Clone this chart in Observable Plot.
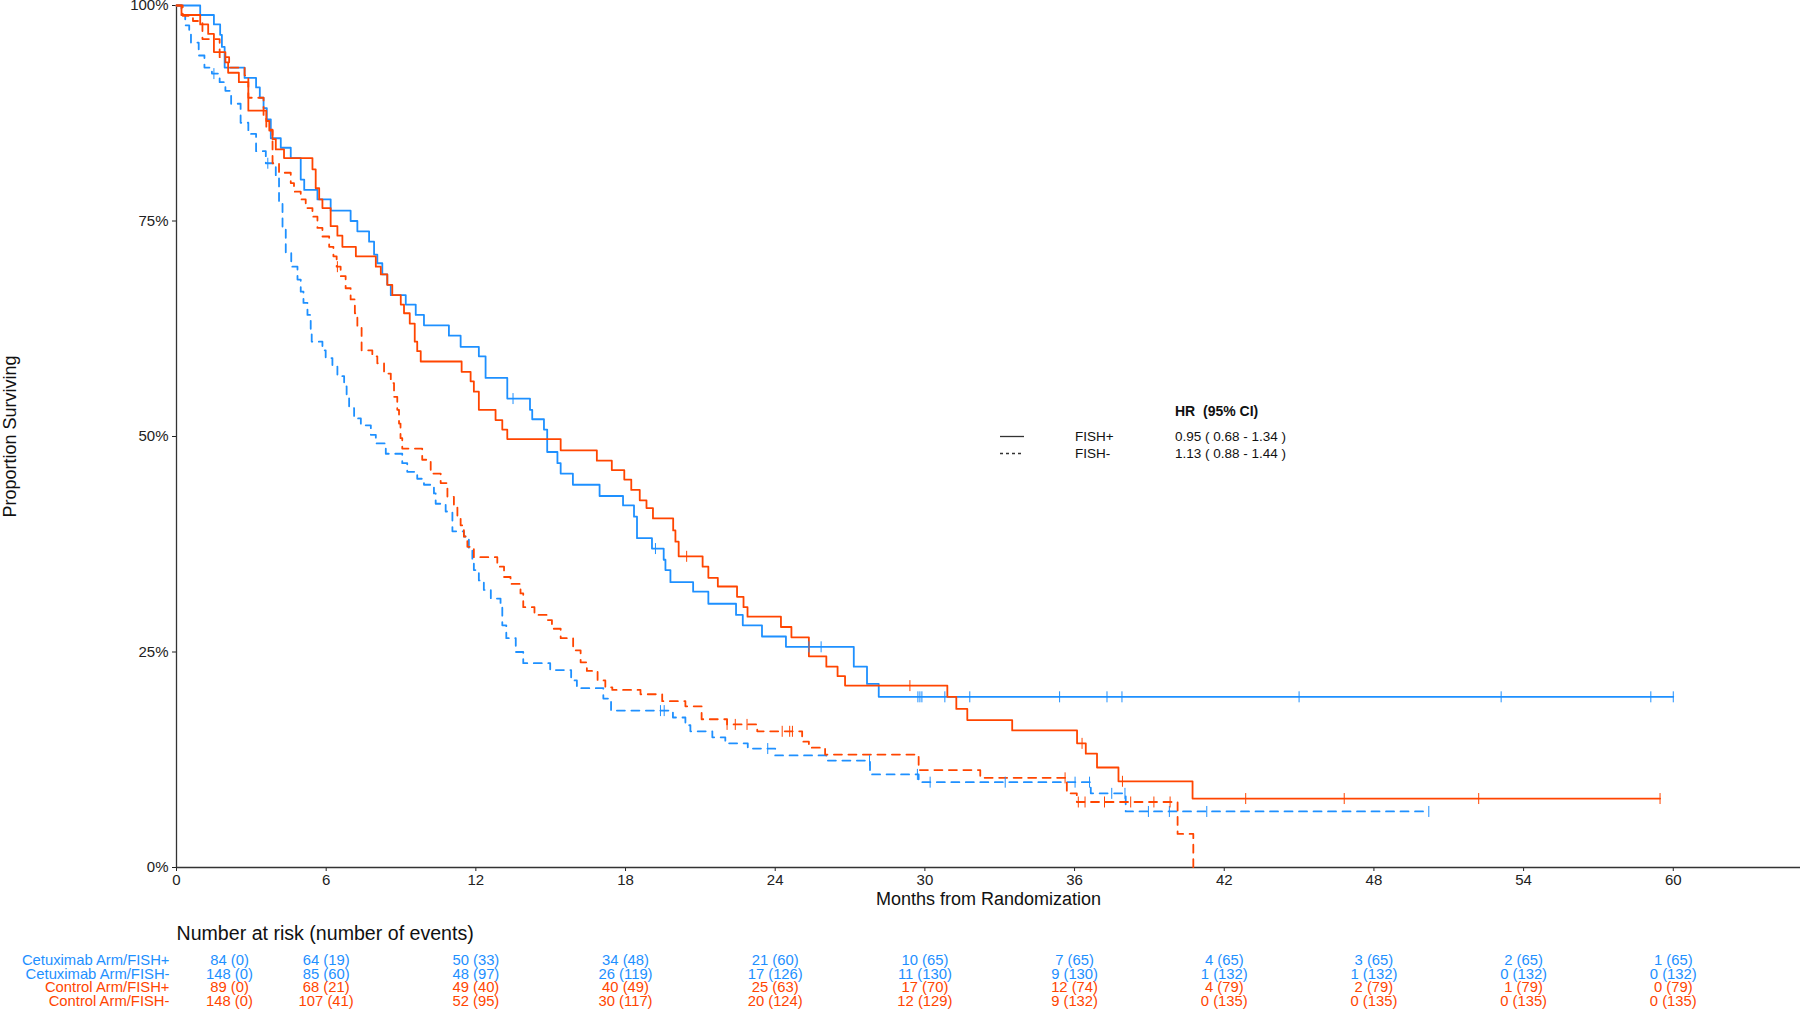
<!DOCTYPE html>
<html>
<head>
<meta charset="utf-8">
<script src="https://cdn.jsdelivr.net/npm/d3@7"></script>
<script src="https://cdn.jsdelivr.net/npm/@observablehq/plot@0.6"></script>
<style>
  body { margin: 0; background: #fff; }
  #wrap { position: relative; width: 1800px; height: 1009px; overflow: hidden; background: #fff; }
  #wrap svg { display: block; }
</style>
</head>
<body>
<div id="wrap"></div>
<script>
// ---------- data ----------
const BLUE = "#1E90FF";
const RED = "#FF4500";
const FONT = "'Liberation Sans', Arial, sans-serif";

const riskMonths = [0, 6, 12, 18, 24, 30, 36, 42, 48, 54, 60];
const yTicks = [0, 0.25, 0.5, 0.75, 1];
const groupNames = ["Cetuximab Arm/FISH+", "Cetuximab Arm/FISH-", "Control Arm/FISH+", "Control Arm/FISH-"];

// Kaplan-Meier steps: [month, % surviving after the step]
const cetuxPos = [[0,100],[0.95,98.9],[1.5,97.8],[1.75,96.6],[1.82,95.2],[1.93,92.8],[2.73,91.6],[3.19,90.5],[3.34,89.3],[3.49,88.1],[3.62,86.8],[3.78,84.6],[4.18,83.5],[4.58,82.3],[4.98,79.8],[5.12,78.6],[5.65,77.5],[6.18,76.2],[6.98,75.0],[7.25,73.8],[7.72,72.6],[7.92,71.1],[8.05,70.1],[8.25,68.8],[8.45,67.6],[8.59,66.4],[9.19,65.3],[9.59,64.1],[9.92,62.9],[10.92,61.7],[11.39,60.4],[12.12,59.3],[12.39,56.8],[13.26,54.4],[14.17,53.1],[14.26,52.0],[14.73,50.8],[14.86,48.2],[15.27,46.9],[15.4,45.7],[15.89,44.4],[16.96,43.1],[17.9,42.0],[18.34,40.7],[18.46,38.2],[19.06,37.0],[19.53,35.7],[19.6,34.5],[19.8,33.1],[20.71,32.0],[21.32,30.6],[22.43,29.3],[22.7,28.1],[23.47,26.8],[24.43,25.6],[27.15,23.3],[27.68,21.3],[28.15,19.8],[60,19.8]];
const cetuxNeg = [[0,100],[0.2,98.9],[0.35,97.7],[0.51,96.7],[0.58,95.7],[0.89,94.2],[1.12,92.8],[1.42,92.1],[1.73,91.1],[1.96,90.1],[2.19,88.6],[2.57,86.4],[2.88,85.1],[3.19,83.1],[3.58,81.7],[3.98,80.0],[4.11,77.1],[4.25,74.0],[4.38,71.3],[4.6,69.7],[4.85,68.2],[4.98,66.8],[5.09,65.5],[5.25,64.1],[5.38,62.0],[5.42,61.0],[5.85,60.0],[5.98,59.1],[6.25,58.1],[6.45,57.0],[6.72,55.8],[6.82,54.6],[6.92,53.3],[7.12,52.1],[7.39,51.3],[7.79,50.2],[7.99,49.2],[8.39,48.0],[9.05,46.9],[9.25,45.9],[9.65,45.1],[9.92,44.4],[10.32,43.4],[10.39,42.2],[10.79,41.3],[11.06,39.0],[11.52,38.4],[11.72,36.8],[11.86,35.7],[11.92,34.5],[12.12,33.3],[12.32,32.2],[12.6,31.2],[12.99,30.4],[13.06,28.1],[13.22,26.6],[13.6,25.0],[13.9,23.7],[14.98,22.9],[15.82,21.7],[16.05,20.8],[17.11,19.6],[17.42,18.2],[19.9,17.4],[20.4,16.5],[20.6,15.8],[21.48,15.1],[22.0,14.4],[22.9,13.8],[24.0,13.0],[26.05,12.4],[27.8,10.8],[29.75,9.9],[36.65,8.6],[38.05,6.5],[50.2,6.5]];
const controlPos = [[0,100],[0.2,98.9],[0.95,97.8],[1.27,96.7],[1.5,94.6],[1.96,93.4],[2.07,92.2],[2.5,91.1],[2.88,87.8],[3.6,86.6],[3.72,85.5],[3.85,84.5],[3.98,83.3],[4.31,82.3],[5.45,81.0],[5.58,78.8],[5.72,77.5],[5.85,76.5],[6.18,74.4],[6.45,73.3],[6.65,72.0],[7.19,70.9],[7.99,69.7],[8.19,68.8],[8.45,67.6],[8.65,66.4],[8.99,65.3],[9.12,64.3],[9.35,63.1],[9.55,61.0],[9.65,59.9],[9.79,58.7],[11.43,57.5],[11.79,56.4],[11.92,55.2],[12.12,53.1],[12.79,51.9],[13.06,50.8],[13.26,49.7],[15.4,48.4],[16.85,47.2],[17.45,46.1],[17.95,45.0],[18.23,43.8],[18.57,42.6],[18.84,41.7],[19.1,40.5],[19.91,39.1],[20.0,37.8],[20.13,36.1],[21.09,34.9],[21.32,33.6],[21.7,32.6],[22.47,31.4],[22.73,30.2],[22.89,29.1],[24.23,27.9],[24.65,26.7],[25.35,24.5],[26.05,23.3],[26.5,22.2],[26.8,21.1],[30.9,19.8],[31.26,18.4],[31.7,17.1],[33.5,15.9],[36.1,14.4],[36.45,13.2],[36.9,11.6],[37.76,10.0],[40.73,8.0],[59.47,8.0]];
const controlNeg = [[0,100],[0.25,98.8],[0.66,98.2],[1.04,96.1],[1.73,94.0],[2.11,92.8],[2.73,91.9],[2.88,89.3],[3.49,87.2],[3.6,85.6],[3.85,81.7],[4.11,80.6],[4.58,79.4],[4.71,78.4],[4.98,77.5],[5.18,76.5],[5.45,75.5],[5.65,74.2],[5.85,73.2],[6.12,72.0],[6.29,70.9],[6.42,69.7],[6.58,68.6],[6.78,67.2],[6.98,65.9],[7.15,64.3],[7.25,62.8],[7.42,60.0],[7.85,59.3],[8.05,58.5],[8.32,57.3],[8.59,56.2],[8.72,54.6],[8.85,53.1],[8.92,51.5],[8.98,49.8],[9.05,48.6],[9.85,47.3],[10.19,45.7],[10.59,44.6],[10.86,43.0],[11.12,41.9],[11.26,40.7],[11.39,39.7],[11.52,38.4],[11.66,37.2],[11.92,36.0],[12.86,34.9],[13.13,33.7],[13.39,32.9],[13.79,31.8],[13.9,30.2],[14.35,29.3],[14.85,28.7],[15.05,27.7],[15.4,26.6],[15.9,25.2],[16.2,23.8],[16.45,22.8],[16.88,21.7],[17.19,20.9],[17.47,20.6],[18.6,20.1],[19.47,19.3],[20.4,18.7],[21.05,17.2],[22.07,16.6],[23.28,15.8],[25.08,14.6],[25.35,13.9],[26.0,13.1],[29.75,11.3],[32.22,10.4],[35.69,8.6],[36.09,7.6],[40.13,3.9],[40.76,0]];

// censoring times (months)
const cetuxPosCensor = [13.49, 19.2, 25.35, 25.84, 29.72, 29.8, 29.88, 30.8, 31.8, 35.4, 37.3, 37.9, 45.0, 53.1, 59.1, 60.0];
const cetuxNegCensor = [1.5, 3.66, 19.4, 19.55, 23.7, 27.78, 29.7, 30.21, 33.22, 36.02, 36.6, 37.49, 38.02, 38.96, 39.8, 41.3, 50.2];
const controlPosCensor = [20.45, 29.4, 36.3, 37.92, 42.86, 46.81, 52.2, 59.47];
const controlNegCensor = [6.45, 22.07, 22.4, 22.87, 24.28, 24.58, 24.69, 35.62, 36.15, 36.42, 37.2, 38.25, 39.18, 39.83];

// number at risk (number of events) at riskMonths
const cetuxPosAtRisk = [84, 64, 50, 34, 21, 10, 7, 4, 3, 2, 1];
const cetuxPosEvents = [0, 19, 33, 48, 60, 65, 65, 65, 65, 65, 65];
const cetuxNegAtRisk = [148, 85, 48, 26, 17, 11, 9, 1, 1, 0, 0];
const cetuxNegEvents = [0, 60, 97, 119, 126, 130, 130, 132, 132, 132, 132];
const controlPosAtRisk = [89, 68, 49, 40, 25, 17, 12, 4, 2, 1, 0];
const controlPosEvents = [0, 21, 40, 49, 63, 70, 74, 79, 79, 79, 79];
const controlNegAtRisk = [148, 107, 52, 30, 20, 12, 9, 0, 0, 0, 0];
const controlNegEvents = [0, 41, 95, 117, 124, 129, 132, 135, 135, 135, 135];

// hazard ratio legend
const hrGroups = ["FISH+", "FISH-"];
const hrValues = ["0.95 ( 0.68 - 1.34 )", "1.13 ( 0.88 - 1.44 )"];

// ---------- build ----------
const series = [
  {name: groupNames[0], pts: cetuxPos, cens: cetuxPosCensor, color: BLUE, dash: undefined, risk: cetuxPosAtRisk, events: cetuxPosEvents},
  {name: groupNames[1], pts: cetuxNeg, cens: cetuxNegCensor, color: BLUE, dash: "8,6.5", risk: cetuxNegAtRisk, events: cetuxNegEvents},
  {name: groupNames[2], pts: controlPos, cens: controlPosCensor, color: RED, dash: undefined, risk: controlPosAtRisk, events: controlPosEvents},
  {name: groupNames[3], pts: controlNeg, cens: controlNegCensor, color: RED, dash: "8,6.5", risk: controlNegAtRisk, events: controlNegEvents}
];

function survAt(pts, t) {
  let s = pts[0][1];
  for (const [m, v] of pts) { if (m <= t) s = v; else break; }
  return s;
}

const tickSymbol = {
  draw(context, size) {
    const r = Math.sqrt(size / Math.PI);
    context.moveTo(0, -r);
    context.lineTo(0, r);
  }
};

const curveMarks = series.map(s => Plot.line(s.pts, {
  x: d => d[0], y: d => d[1] / 100, stroke: s.color, strokeWidth: 1.8,
  strokeDasharray: s.dash, curve: "step-after"
}));
const censorMarks = series.map(s => Plot.dot(s.cens, {
  x: d => d, y: d => survAt(s.pts, d) / 100, symbol: tickSymbol, r: 5.5,
  stroke: s.color, strokeWidth: 1, fill: "none"
}));

const main = Plot.plot({
  width: 1800, height: 912,
  marginLeft: 176, marginRight: 0, marginTop: 5, marginBottom: 45,
  style: {fontFamily: FONT, fontSize: "15px", color: "#222", background: "white", overflow: "visible"},
  x: {domain: [0, 65.1], ticks: riskMonths, tickSize: 4, tickPadding: 3, label: null},
  y: {domain: [0, 1], ticks: yTicks, tickFormat: d => Math.round(d * 100) + "%", tickSize: 4, tickPadding: 4, label: null},
  marks: [
    Plot.ruleY([0], {stroke: "#333", strokeWidth: 1.3}),
    Plot.ruleX([0], {stroke: "#333", strokeWidth: 1.3}),
    ...curveMarks,
    ...censorMarks,
    Plot.text(["Months from Randomization"], {text: d => d, frameAnchor: "bottom", lineAnchor: "middle", textAnchor: "middle", dy: 32, fontSize: 18, fill: "#111"}),
    Plot.text(["Proportion Surviving"], {text: d => d, frameAnchor: "left", lineAnchor: "middle", textAnchor: "middle", dx: -166, rotate: -90, fontSize: 18, fill: "#111"})
  ]
});

// HR legend inside the plot
const lg = d3.select(main).append("g")
  .attr("font-family", FONT).attr("font-size", 13.5).attr("fill", "#111")
  .attr("text-anchor", "start");
lg.append("text").attr("x", 1175).attr("y", 411).attr("dy", "0.35em")
  .attr("font-weight", "bold").attr("font-size", 14).text("HR\u00a0 (95% CI)");
hrGroups.forEach((g, i) => {
  const y = 436.5 + i * 17;
  lg.append("line").attr("x1", 1000).attr("x2", 1024).attr("y1", y).attr("y2", y)
    .attr("stroke", "#333").attr("stroke-width", 1.3)
    .attr("stroke-dasharray", i === 0 ? null : "3,3");
  lg.append("text").attr("x", 1075).attr("y", y).attr("dy", "0.35em").text(g);
  lg.append("text").attr("x", 1175).attr("y", y).attr("dy", "0.35em").text(hrValues[i]);
});

// Number-at-risk table
const tableData = series.flatMap((s, i) => riskMonths.map((m, j) => ({
  row: i, m, label: `${s.risk[j]} (${s.events[j]})`, color: s.color
})));

const table = Plot.plot({
  width: 1800, height: 97,
  marginLeft: 176, marginRight: 0, marginTop: 0, marginBottom: 0,
  style: {fontFamily: FONT, fontSize: "14.8px", background: "white", overflow: "visible"},
  x: {domain: [0, 65.1], axis: null},
  y: {domain: [0, 3], range: [48, 88.7], axis: null},
  color: {type: "identity"},
  marks: [
    Plot.text(["Number at risk (number of events)"], {text: d => d, frameAnchor: "top-left", textAnchor: "start", lineAnchor: "middle", dy: 21, fontSize: 19.6, fill: "#111"}),
    Plot.text(series, {x: () => 0, y: (d, i) => i, text: "name", fill: "color", textAnchor: "end", dx: -7, fontSize: 14.8}),
    Plot.text(tableData.filter(d => d.m === 0), {x: "m", y: "row", text: "label", fill: "color", dx: 53, fontSize: 14.8}),
    Plot.text(tableData.filter(d => d.m > 0), {x: "m", y: "row", text: "label", fill: "color", fontSize: 14.8})
  ]
});

const wrap = document.getElementById("wrap");
wrap.appendChild(main);
wrap.appendChild(table);
</script>
</body>
</html>
